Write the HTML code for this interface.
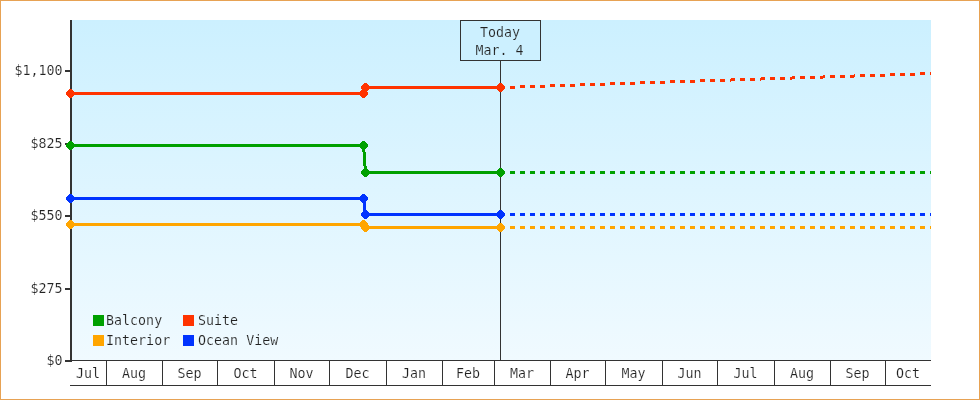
<!DOCTYPE html>
<html lang="en"><head><meta charset="utf-8"><title>Price chart</title>
<style>
html,body{margin:0;padding:0;background:#fff;}
body{width:980px;height:400px;overflow:hidden;position:relative;}
#chart{position:absolute;left:0;top:0;width:980px;height:400px;display:block;}
text{font-family:"DejaVu Sans Mono", "Liberation Mono", monospace;font-size:13.3px;fill:#222;stroke:#fff;stroke-width:0.16px;}
.tb{stroke:#ccf0ff;}
.tl{stroke:#edf8ff;}
.c{shape-rendering:crispEdges;}
</style></head><body>
<svg id="chart" width="980" height="400" viewBox="0 0 980 400">
<defs><linearGradient id="g" x1="0" y1="0" x2="0" y2="1"><stop offset="0" stop-color="#ccf0ff"/><stop offset="1" stop-color="#f0faff"/></linearGradient>
<clipPath id="cp"><rect x="66" y="20" width="865" height="341"/></clipPath></defs>
<rect x="0" y="0" width="980" height="400" fill="#ffffff"/>
<rect class="c" x="0.5" y="0.5" width="979" height="399" fill="none" stroke="#e7a254" stroke-width="1"/>
<rect class="c" x="72" y="20" width="859" height="340" fill="url(#g)"/>

<rect class="c" x="70" y="20" width="2" height="342" fill="#333333"/>
<rect class="c" x="70" y="360" width="861" height="1" fill="#333333"/>
<rect class="c" x="70" y="385" width="861" height="1" fill="#333333"/>
<rect class="c" x="106" y="360" width="1" height="26" fill="#333333"/>
<rect class="c" x="162" y="360" width="1" height="26" fill="#333333"/>
<rect class="c" x="217" y="360" width="1" height="26" fill="#333333"/>
<rect class="c" x="274" y="360" width="1" height="26" fill="#333333"/>
<rect class="c" x="329" y="360" width="1" height="26" fill="#333333"/>
<rect class="c" x="386" y="360" width="1" height="26" fill="#333333"/>
<rect class="c" x="442" y="360" width="1" height="26" fill="#333333"/>
<rect class="c" x="494" y="360" width="1" height="26" fill="#333333"/>
<rect class="c" x="550" y="360" width="1" height="26" fill="#333333"/>
<rect class="c" x="605" y="360" width="1" height="26" fill="#333333"/>
<rect class="c" x="662" y="360" width="1" height="26" fill="#333333"/>
<rect class="c" x="717" y="360" width="1" height="26" fill="#333333"/>
<rect class="c" x="774" y="360" width="1" height="26" fill="#333333"/>
<rect class="c" x="830" y="360" width="1" height="26" fill="#333333"/>
<rect class="c" x="885" y="360" width="1" height="26" fill="#333333"/>
<text x="88.0" y="377.5" text-anchor="middle">Jul</text>
<text x="134.0" y="377.5" text-anchor="middle">Aug</text>
<text x="189.5" y="377.5" text-anchor="middle">Sep</text>
<text x="245.5" y="377.5" text-anchor="middle">Oct</text>
<text x="301.5" y="377.5" text-anchor="middle">Nov</text>
<text x="357.5" y="377.5" text-anchor="middle">Dec</text>
<text x="414.0" y="377.5" text-anchor="middle">Jan</text>
<text x="468.0" y="377.5" text-anchor="middle">Feb</text>
<text x="522.0" y="377.5" text-anchor="middle">Mar</text>
<text x="577.5" y="377.5" text-anchor="middle">Apr</text>
<text x="633.5" y="377.5" text-anchor="middle">May</text>
<text x="689.5" y="377.5" text-anchor="middle">Jun</text>
<text x="745.5" y="377.5" text-anchor="middle">Jul</text>
<text x="802.0" y="377.5" text-anchor="middle">Aug</text>
<text x="857.5" y="377.5" text-anchor="middle">Sep</text>
<text x="908.0" y="377.5" text-anchor="middle">Oct</text>
<rect class="c" x="65" y="70" width="5" height="2" fill="#333333"/>
<text x="62.5" y="74.5" text-anchor="end">$1,100</text>
<rect class="c" x="65" y="143" width="5" height="2" fill="#333333"/>
<text x="62.5" y="147.5" text-anchor="end">$825</text>
<rect class="c" x="65" y="215" width="5" height="2" fill="#333333"/>
<text x="62.5" y="219.5" text-anchor="end">$550</text>
<rect class="c" x="65" y="288" width="5" height="2" fill="#333333"/>
<text x="62.5" y="292.5" text-anchor="end">$275</text>
<rect class="c" x="65" y="360" width="5" height="2" fill="#333333"/>
<text x="62.5" y="364.5" text-anchor="end">$0</text>
<rect class="c" x="500" y="60" width="1" height="300" fill="#333333"/>
<rect class="c" x="460.5" y="20.5" width="80" height="40" fill="#ccf0ff" stroke="#333333" stroke-width="1"/>
<text class="tb" x="500" y="37" text-anchor="middle">Today</text>
<text class="tb" x="499.6" y="55" text-anchor="middle">Mar. 4</text>
<g clip-path="url(#cp)">
<polyline class="c" points="70.0,224.5 363.5,224.5 365.5,227.5 500.5,227.5" fill="none" stroke="#ffa500" stroke-width="3" stroke-linejoin="round"/>
<line class="c" x1="500.0" y1="227.5" x2="931.0" y2="227.5" stroke="#ffa500" stroke-width="3" stroke-dasharray="5 5"/>
<path class="c" d="M66 223h9v3h-9zM67 222h7v5h-7zM68 221h5v7h-5zM69 220h3v9h-3z" fill="#ffa500"/>
<path class="c" d="M359 223h9v3h-9zM360 222h7v5h-7zM361 221h5v7h-5zM362 220h3v9h-3z" fill="#ffa500"/>
<path class="c" d="M361 226h9v3h-9zM362 225h7v5h-7zM363 224h5v7h-5zM364 223h3v9h-3z" fill="#ffa500"/>
<path class="c" d="M496 226h9v3h-9zM497 225h7v5h-7zM498 224h5v7h-5zM499 223h3v9h-3z" fill="#ffa500"/>
<polyline class="c" points="70.0,198.5 363.5,198.5 365.5,214.5 500.5,214.5" fill="none" stroke="#0033ff" stroke-width="3" stroke-linejoin="round"/>
<line class="c" x1="500.0" y1="214.5" x2="931.0" y2="214.5" stroke="#0033ff" stroke-width="3" stroke-dasharray="5 5"/>
<path class="c" d="M66 197h9v3h-9zM67 196h7v5h-7zM68 195h5v7h-5zM69 194h3v9h-3z" fill="#0033ff"/>
<path class="c" d="M359 197h9v3h-9zM360 196h7v5h-7zM361 195h5v7h-5zM362 194h3v9h-3z" fill="#0033ff"/>
<path class="c" d="M361 213h9v3h-9zM362 212h7v5h-7zM363 211h5v7h-5zM364 210h3v9h-3z" fill="#0033ff"/>
<path class="c" d="M496 213h9v3h-9zM497 212h7v5h-7zM498 211h5v7h-5zM499 210h3v9h-3z" fill="#0033ff"/>
<polyline class="c" points="70.0,145.5 363.5,145.5 365.5,172.5 500.5,172.5" fill="none" stroke="#00a000" stroke-width="3" stroke-linejoin="round"/>
<line class="c" x1="500.0" y1="172.5" x2="931.0" y2="172.5" stroke="#00a000" stroke-width="3" stroke-dasharray="5 5"/>
<path class="c" d="M66 144h9v3h-9zM67 143h7v5h-7zM68 142h5v7h-5zM69 141h3v9h-3z" fill="#00a000"/>
<path class="c" d="M359 144h9v3h-9zM360 143h7v5h-7zM361 142h5v7h-5zM362 141h3v9h-3z" fill="#00a000"/>
<path class="c" d="M361 171h9v3h-9zM362 170h7v5h-7zM363 169h5v7h-5zM364 168h3v9h-3z" fill="#00a000"/>
<path class="c" d="M496 171h9v3h-9zM497 170h7v5h-7zM498 169h5v7h-5zM499 168h3v9h-3z" fill="#00a000"/>
<polyline class="c" points="70.0,93.5 363.5,93.5 365.5,87.5 500.5,87.5" fill="none" stroke="#ff3300" stroke-width="3" stroke-linejoin="round"/>
<line class="c" x1="500.0" y1="87.5" x2="931.0" y2="73.5" stroke="#ff3300" stroke-width="3" stroke-dasharray="5 5"/>
<path class="c" d="M66 92h9v3h-9zM67 91h7v5h-7zM68 90h5v7h-5zM69 89h3v9h-3z" fill="#ff3300"/>
<path class="c" d="M359 92h9v3h-9zM360 91h7v5h-7zM361 90h5v7h-5zM362 89h3v9h-3z" fill="#ff3300"/>
<path class="c" d="M361 86h9v3h-9zM362 85h7v5h-7zM363 84h5v7h-5zM364 83h3v9h-3z" fill="#ff3300"/>
<path class="c" d="M496 86h9v3h-9zM497 85h7v5h-7zM498 84h5v7h-5zM499 83h3v9h-3z" fill="#ff3300"/>
</g>
<rect class="c" x="93" y="315" width="11" height="11" fill="#00a000"/>
<text class="tl" x="106.1" y="325">Balcony</text>
<rect class="c" x="183" y="315" width="11" height="11" fill="#ff3300"/>
<text class="tl" x="198.1" y="325">Suite</text>
<rect class="c" x="93" y="335" width="11" height="11" fill="#ffa500"/>
<text class="tl" x="106.1" y="345">Interior</text>
<rect class="c" x="183" y="335" width="11" height="11" fill="#0033ff"/>
<text class="tl" x="198.1" y="345">Ocean View</text>
</svg>
</body></html>
